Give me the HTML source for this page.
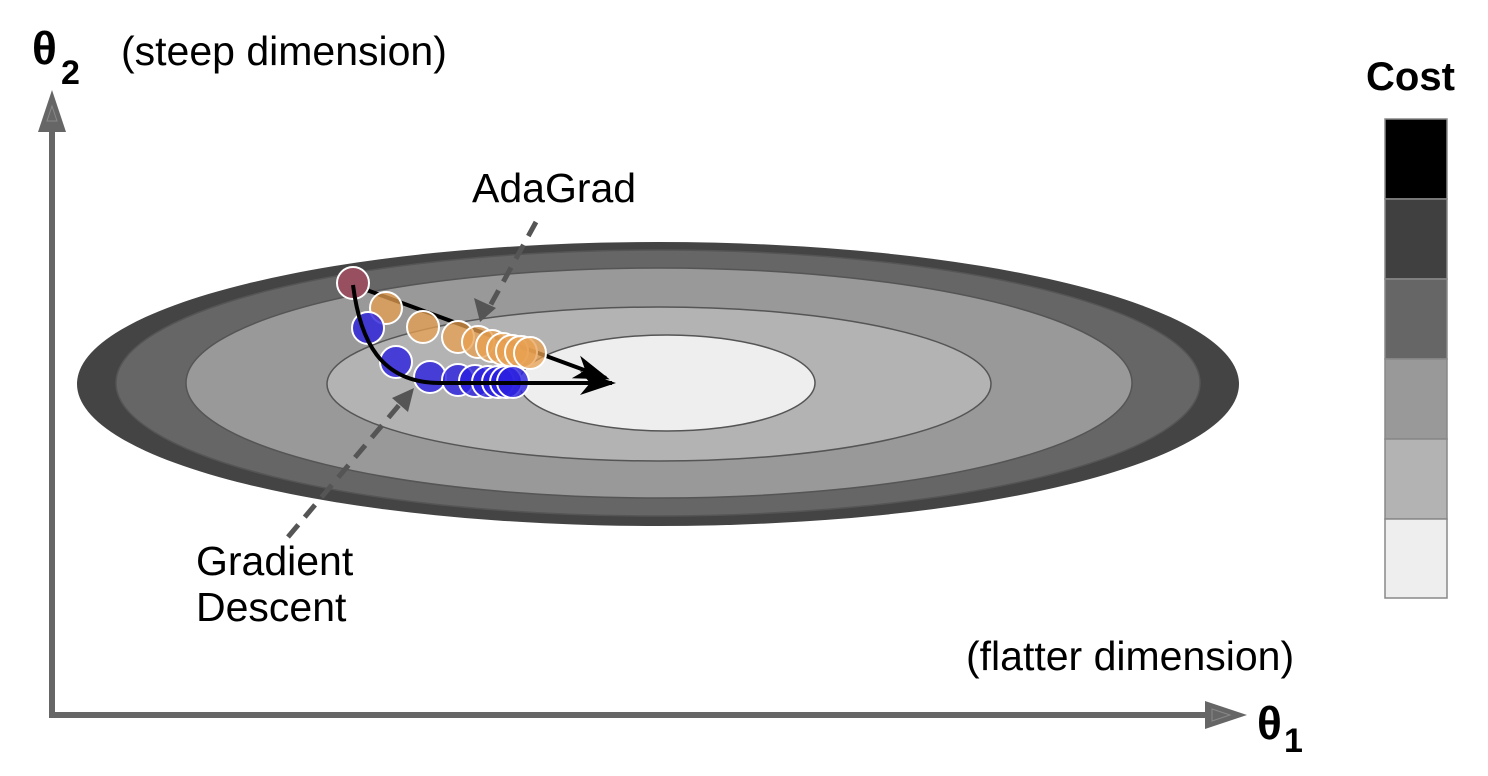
<!DOCTYPE html>
<html><head><style>html,body{margin:0;padding:0;background:#fff;}svg{display:block;}</style></head>
<body>
<svg width="1488" height="776" viewBox="0 0 1488 776" xmlns="http://www.w3.org/2000/svg" font-family="Liberation Sans, sans-serif">
<defs>
<marker id="ah" markerWidth="9" markerHeight="6" refX="8" refY="3" orient="auto" markerUnits="strokeWidth">
<path d="M0,0 L9,3 L0,6 L2.5,3 z" fill="#000"/>
</marker>
</defs>
<ellipse cx="658" cy="384" rx="581" ry="142" fill="#444"/>
<ellipse cx="658" cy="383" rx="542" ry="133" fill="#666" stroke="#555" stroke-width="1.5"/>
<ellipse cx="659" cy="383" rx="473" ry="115" fill="#999" stroke="#555" stroke-width="1.5"/>
<ellipse cx="659" cy="384" rx="332" ry="77" fill="#b3b3b3" stroke="#555" stroke-width="1.5"/>
<ellipse cx="667" cy="383" rx="148" ry="48" fill="#eee" stroke="#555" stroke-width="1.5"/>
<line x1="536" y1="222" x2="490" y2="306" stroke="#555" stroke-width="5" stroke-dasharray="16,10"/>
<polygon points="480,322 474,298 496,308" fill="#555"/>
<line x1="288" y1="537" x2="400" y2="404" stroke="#555" stroke-width="5" stroke-dasharray="16,10"/>
<polygon points="414,388 408,412 392,398" fill="#555"/>
<path d="M353,285 L606,378" fill="none" stroke="#000" stroke-width="4" marker-end="url(#ah)"/>
<g fill="#e8a050" fill-opacity="0.75" stroke="#fff" stroke-width="2">
<circle cx="386" cy="308" r="16"/><circle cx="423" cy="327" r="16"/><circle cx="458" cy="337" r="16"/>
<circle cx="478" cy="342" r="16"/><circle cx="492" cy="346" r="16"/><circle cx="503" cy="349" r="16"/>
<circle cx="512" cy="351" r="16"/><circle cx="521" cy="352" r="16"/><circle cx="530" cy="353" r="16"/>
</g>
<g fill="#2a1fe0" fill-opacity="0.8" stroke="#fff" stroke-width="2">
<circle cx="368" cy="328" r="16"/><circle cx="396" cy="362" r="16"/><circle cx="430" cy="377" r="16"/>
<circle cx="458" cy="380" r="16"/><circle cx="475" cy="381" r="16"/><circle cx="488" cy="382" r="16"/>
<circle cx="498" cy="382" r="16"/><circle cx="506" cy="382" r="16"/><circle cx="513" cy="382" r="16"/>
</g>
<circle cx="353" cy="283" r="16" fill="#985060" stroke="#fff" stroke-width="2"/>
<path d="M353,285 C360,340 380,383 440,383 L612,383" fill="none" stroke="#000" stroke-width="4" marker-end="url(#ah)"/>
<line x1="52" y1="716" x2="52" y2="125" stroke="#666" stroke-width="6"/>
<polygon points="52,90 38,132 66,132" fill="#666"/>
<polygon points="52,106 47,121 57,121" fill="none" stroke="#888" stroke-width="1"/>
<line x1="49" y1="715" x2="1205" y2="715" stroke="#666" stroke-width="6"/>
<polygon points="1247,715 1205,701 1205,729" fill="#666"/>
<polygon points="1230,715 1212,709 1212,721" fill="none" stroke="#888" stroke-width="1"/>
<text x="32" y="64" font-size="46" font-weight="bold">θ</text>
<text x="61" y="84" font-size="34" font-weight="bold">2</text>
<text x="121" y="65" font-size="41">(steep dimension)</text>
<text x="1257" y="739" font-size="46" font-weight="bold">θ</text>
<text x="1284" y="752" font-size="34" font-weight="bold">1</text>
<text x="966" y="670" font-size="41">(flatter dimension)</text>
<text x="472" y="202" font-size="41">AdaGrad</text>
<text x="196" y="575" font-size="41">Gradient</text>
<text x="196" y="621" font-size="41">Descent</text>
<text x="1366" y="90" font-size="40" font-weight="bold">Cost</text>
<g stroke="#888" stroke-width="1.5">
<rect x="1385" y="119" width="62" height="80" fill="#000"/>
<rect x="1385" y="199" width="62" height="80" fill="#404040"/>
<rect x="1385" y="279" width="62" height="80" fill="#666"/>
<rect x="1385" y="359" width="62" height="80" fill="#999"/>
<rect x="1385" y="439" width="62" height="80" fill="#b3b3b3"/>
<rect x="1385" y="519" width="62" height="79" fill="#eee"/>
</g>
</svg>
</body></html>
